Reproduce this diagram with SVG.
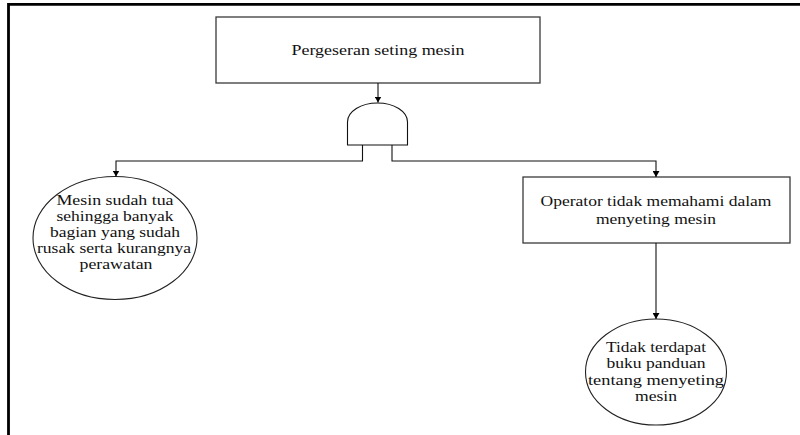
<svg xmlns="http://www.w3.org/2000/svg" width="800" height="435" viewBox="0 0 800 435">
<style>
.box{fill:#fff;stroke:#3a3a3a;stroke-width:1.3}
.ell{fill:#fff;stroke:#222;stroke-width:1.1}
.gate{fill:#fff;stroke:#111;stroke-width:1.1}
.t{font-family:"Liberation Serif","Times New Roman",serif;font-size:14px;fill:#111;text-anchor:middle}
.c{fill:none;stroke:#111;stroke-width:1.1}
</style>
<defs>
<marker id="ah" viewBox="0 0 6 7" refX="6" refY="3.5" markerWidth="6" markerHeight="7" markerUnits="userSpaceOnUse" orient="auto">
<path d="M0,0 L6,3.5 L0,7 z" fill="#000"/>
</marker>
</defs>
<rect width="800" height="435" fill="#fff"/>
<path d="M8.5,435 V4.3 H800" fill="none" stroke="#000" stroke-width="2.8"/>

<g id="top">
<rect class="box" x="216" y="17" width="324" height="66"/>
<text class="t" x="378" y="54.5" textLength="173" lengthAdjust="spacingAndGlyphs">Pergeseran seting mesin</text>
</g>

<g id="gate">
<path class="gate" d="M347.5,145 V122 A30,19 0 0 1 407.5,122 V145 Z"/>
</g>

<g id="left">
<ellipse class="ell" cx="115" cy="238" rx="82" ry="61.5"/>
<text class="t" x="115" y="205" textLength="117" lengthAdjust="spacingAndGlyphs">Mesin sudah tua</text>
<text class="t" x="115" y="221" textLength="117" lengthAdjust="spacingAndGlyphs">sehingga banyak</text>
<text class="t" x="115" y="237" textLength="130" lengthAdjust="spacingAndGlyphs">bagian yang sudah</text>
<text class="t" x="114" y="253" textLength="154" lengthAdjust="spacingAndGlyphs">rusak serta kurangnya</text>
<text class="t" x="116" y="269" textLength="73" lengthAdjust="spacingAndGlyphs">perawatan</text>
</g>

<g id="right">
<rect class="box" x="523" y="177" width="267" height="66"/>
<text class="t" x="656" y="205.5" textLength="231" lengthAdjust="spacingAndGlyphs">Operator tidak memahami dalam</text>
<text class="t" x="656" y="223.5" textLength="120" lengthAdjust="spacingAndGlyphs">menyeting mesin</text>
</g>

<g id="bottom">
<ellipse class="ell" cx="656" cy="372" rx="70.5" ry="53"/>
<text class="t" x="656" y="352" textLength="100" lengthAdjust="spacingAndGlyphs">Tidak terdapat</text>
<text class="t" x="656" y="368" textLength="99" lengthAdjust="spacingAndGlyphs">buku panduan</text>
<text class="t" x="656" y="384.5" textLength="136" lengthAdjust="spacingAndGlyphs">tentang menyeting</text>
<text class="t" x="656" y="400.5" textLength="42" lengthAdjust="spacingAndGlyphs">mesin</text>
</g>

<g id="connectors">
<path class="c" d="M378,83 V102.5" marker-end="url(#ah)"/>
<path class="c" d="M362.5,145 V161 H116 V176.5" marker-end="url(#ah)"/>
<path class="c" d="M392,145 V161 H656 V177" marker-end="url(#ah)"/>
<path class="c" d="M656,243 V319" marker-end="url(#ah)"/>
</g>
</svg>
